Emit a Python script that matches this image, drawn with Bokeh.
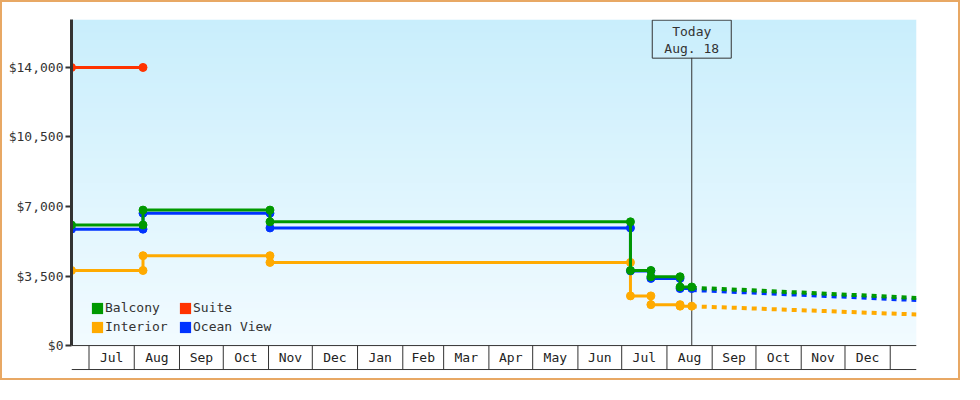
import numpy as np
import pandas as pd
from bokeh.plotting import figure
from bokeh.models import Range1d, FixedTicker, NumeralTickFormatter, Legend, LegendItem
from bokeh.core.properties import value
from bokeh.embed import file_html
from bokeh.resources import INLINE

# ---------------- data ----------------
change_dates = ["2014-06-19", "2014-08-07", "2014-11-02", "2015-07-07", "2015-07-21", "2015-08-10"]
balcony_prices = [6070, 6820, 6230, 3780, 3465, 2950]
ocean_view_prices = [5860, 6660, 5920, 3760, 3380, 2870]
interior_prices = [3780, 4525, 4185, 2500, 2060, 1985]
suite_dates = ["2014-06-19"]
suite_prices = [14000]
suite_last_seen = "2014-08-07"
today = "2015-08-18"
today_label = ["Today", "Aug. 18"]

forecast_dates = ["2015-08-18", "2015-09-18", "2015-10-18", "2015-11-18", "2015-12-18", "2016-01-19"]
balcony_forecast = [2910, 2815, 2715, 2610, 2510, 2400]
ocean_view_forecast = [2800, 2700, 2600, 2500, 2400, 2290]
interior_forecast = [1975, 1900, 1815, 1735, 1650, 1565]

month_labels = ["Jul", "Aug", "Sep", "Oct", "Nov", "Dec", "Jan", "Feb", "Mar",
                "Apr", "May", "Jun", "Jul", "Aug", "Sep", "Oct", "Nov", "Dec"]
y_ticks = [0, 3500, 7000, 10500, 14000]

range_start = "2014-06-19"
range_end = "2016-01-19"
first_month = "2014-07-01"
last_month = "2016-01-01"

# ---------------- helpers ----------------
def ms(d):
    return pd.Timestamp(d).value / 1e6

def step_path(dates, prices, end):
    xs, ys = [ms(dates[0])], [prices[0]]
    for i in range(1, len(dates)):
        xs += [ms(dates[i]), ms(dates[i])]
        ys += [prices[i - 1], prices[i]]
    xs.append(ms(end))
    ys.append(prices[-1])
    return xs, ys

FONT = value("DejaVu Sans Mono")
GREEN, BLUE, ORANGE, RED = "#009900", "#0033ff", "#ffaa00", "#ff3300"
DARK = "#333333"

x0, x1 = ms(range_start), ms(range_end)
y_top = 16414
y_bottom = -1255
band = -1207   # depth of the month strip below zero

p = figure(width=960, height=380, output_backend="svg", toolbar_location=None,
           x_range=Range1d(x0, x1), y_range=Range1d(y_bottom, y_top),
           x_axis_location=None,
           min_border_left=69, min_border_right=46, min_border_top=17, min_border_bottom=12,
           background_fill_color="white", border_fill_color="white")
p.outline_line_color = None
p.grid.visible = False
p.styles = {"border": "2px solid #e8a864"}

# background gradient
n = 340
top_c = np.array([201, 238, 252], dtype=float)
bot_c = np.array([242, 251, 255], dtype=float)
t = np.linspace(0, 1, n)[:, None]
rgb = (bot_c + (top_c - bot_c) * t).round().astype(np.uint8)
img = np.zeros((n, 1), dtype=np.uint32)
view = img.view(dtype=np.uint8).reshape((n, 1, 4))
view[:, 0, 0] = rgb[:, 0]
view[:, 0, 1] = rgb[:, 1]
view[:, 0, 2] = rgb[:, 2]
view[:, 0, 3] = 255
p.image_rgba(image=[img], x=x0, y=0, dw=x1 - x0, dh=y_top, level="image")

# month strip
bounds = pd.date_range(first_month, last_month, freq="MS")
bx = [ms(b) for b in bounds]
p.segment(x0=bx, y0=[0] * len(bx), x1=bx, y1=[band] * len(bx), line_color=DARK, line_width=1)
p.segment(x0=[x0, x0], y0=[0, band], x1=[x1, x1], y1=[0, band], line_color=DARK, line_width=1)
centers = [(bx[i] + bx[i + 1]) / 2 for i in range(len(bx) - 1)]
p.text(x=centers, y=[band / 2] * len(centers), text=month_labels,
       text_align="center", text_baseline="middle", text_font=FONT,
       text_font_size="13px", text_color="#222222")

# today marker
tx = ms(today)
p.segment(x0=[tx], y0=[0], x1=[tx], y1=[14483], line_color=DARK, line_width=1)
p.rect(x=[tx], y=[15424], width=79, height=38, width_units="screen", height_units="screen",
       fill_alpha=0, line_color=DARK, line_width=1)
p.text(x=[tx, tx], y=[15834, 14965], text=today_label, text_align="center",
       text_baseline="middle", text_font=FONT, text_font_size="13px", text_color=DARK)

# forecasts (dashed)
fx = [ms(d) for d in forecast_dates]
for fc, col in [(interior_forecast, ORANGE), (ocean_view_forecast, BLUE), (balcony_forecast, GREEN)]:
    p.line(fx, fc, line_color=col, line_width=4, line_dash="5 5")

# history step lines with markers
series = [
    (change_dates, interior_prices, today, ORANGE),
    (change_dates, ocean_view_prices, today, BLUE),
    (change_dates, balcony_prices, today, GREEN),
    (suite_dates, suite_prices, suite_last_seen, RED),
]
for dts, pr, end, col in series:
    xs, ys = step_path(dts, pr, end)
    p.line(xs, ys, line_color=col, line_width=3)
    p.scatter(xs, ys, marker="circle", size=8, fill_color=col, line_color=col, line_width=1)

# y axis
ax = p.yaxis[0]
ax.bounds = (0, y_top)
ax.ticker = FixedTicker(ticks=y_ticks)
ax.formatter = NumeralTickFormatter(format="$0,0")
ax.axis_line_color = DARK
ax.axis_line_width = 3
ax.major_tick_line_color = DARK
ax.major_tick_line_width = 2
ax.major_tick_out = 6
ax.major_tick_in = 0
ax.minor_tick_line_color = None
ax.major_label_standoff = 2
ax.major_label_text_font = "DejaVu Sans Mono"
ax.major_label_text_font_size = "13px"
ax.major_label_text_color = DARK

# legend (two columns)
def swatch(col):
    return p.quad(left=[np.nan], right=[np.nan], top=[np.nan], bottom=[np.nan],
                  fill_color=col, line_color=None)

sw = {name: swatch(c) for name, c in
      [("Balcony", GREEN), ("Interior", ORANGE), ("Suite", RED), ("Ocean View", BLUE)]}

def make_legend(names, loc):
    leg = Legend(items=[LegendItem(label=nm, renderers=[sw[nm]], index=0) for nm in names],
                 location=loc, orientation="vertical",
                 glyph_width=14, glyph_height=14, label_standoff=1, spacing=4,
                 padding=0, margin=0, border_line_color=None, background_fill_alpha=0,
                 label_text_font="DejaVu Sans Mono", label_text_font_size="13px",
                 label_text_color=DARK, label_height=14)
    p.add_layout(leg, "center")

make_legend(["Balcony", "Interior"], (19, 36))
make_legend(["Suite", "Ocean View"], (107, 36))

open("out.html", "w").write(file_html(p, INLINE))
